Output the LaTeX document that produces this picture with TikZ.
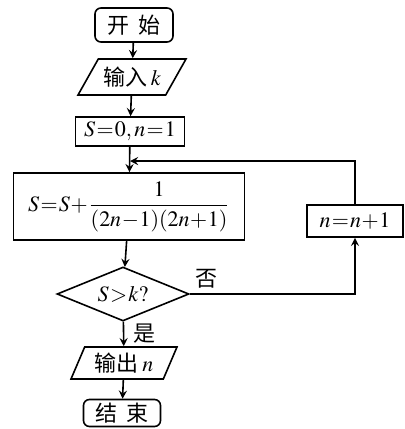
\documentclass[tikz,border=0pt]{standalone}
\usepackage{amsmath}
\usepackage{mathptmx}
\usepackage{fontspec}
\newfontfamily\cjk{Noto Sans CJK SC}
\usetikzlibrary{shapes.geometric}
\AtBeginDocument{\thickmuskip=1mu \medmuskip=0.5mu}

\begin{document}
\begin{tikzpicture}[x=0.5pt, y=-0.5pt, >=stealth, line width=0.8pt,
  every node/.style={font=\fontsize{11}{13}\selectfont},
  termbox/.style={draw, rounded corners=3pt, inner sep=0pt},
  iobox/.style={draw, trapezium, trapezium stretches body, trapezium left angle=45,
    trapezium right angle=135, inner sep=0pt},
  procbox/.style={draw, inner sep=0pt},
  testbox/.style={draw, diamond, aspect=2.44, inner sep=0pt}]
\useasboundingbox (0,0) rectangle (405,429);
\node[termbox, minimum width=39pt, minimum height=17pt] (start) at (134,25) {\cjk 开\hspace{0.4em}始};
\node[iobox, minimum width=54pt, minimum height=18pt] (input) at (132,77) {\cjk 输入\,$k$};
\node[procbox, minimum width=54.5pt, minimum height=14.5pt] (init) at (130,131.5) {$S=0,n=1$};
\node[procbox, minimum width=115.5pt, minimum height=33.5pt] (assign) at (129,206.5)
    {$S=S+\dfrac{1}{(2n-1)(2n+1)}$};
\node[testbox, minimum width=66pt, minimum height=27pt] (test) at (123,294) {$S>k?$};
\node[procbox, minimum width=48pt, minimum height=16pt] (inc) at (355,221) {$n=n+1$};
\node[iobox, trapezium left angle=56, trapezium right angle=124,
    minimum width=53pt, minimum height=16pt] (output) at (124,363) {\cjk 输出\,$n$};
\node[termbox, minimum width=38.5pt, minimum height=13.5pt] (stop) at (122,413) {\cjk 结\hspace{0.4em}束};
\coordinate (join) at (130,161);
\draw[->] (start) -- (input);
\draw[->] (input) -- (init);
\draw[->] (init) -- (assign);
\draw[->] (assign) -- (test);
\draw[->] (test) -- node[right=1pt] {\cjk 是} (output);
\draw[->] (output) -- (stop);
\draw[->] (test.east) -| node[pos=0, above right, inner sep=2.6pt] {\cjk 否} (inc.south);
\draw[->] (inc.north) |- (join);
\end{tikzpicture}
\end{document}
